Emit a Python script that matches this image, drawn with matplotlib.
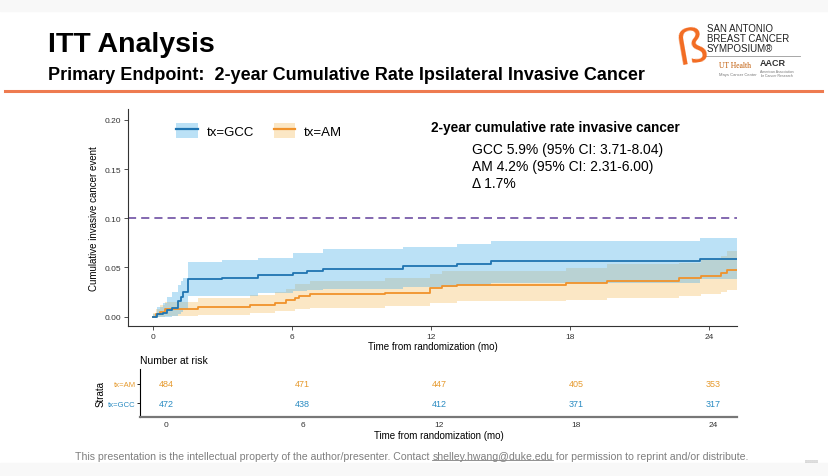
import numpy as np
import matplotlib
matplotlib.use('Agg')
from matplotlib import pyplot as plt
from matplotlib.patches import Patch
from matplotlib.lines import Line2D

plt.rcParams['font.family'] = ['Liberation Sans', 'DejaVu Sans']

# Kaplan-Meier style cumulative incidence
gcc_t = [0, 0.15, 0.4, 0.6, 0.8, 1.07, 1.2, 1.3, 1.5, 2.95, 4.53, 6.04, 6.65, 7.31, 10.8, 13.1, 14.56, 23.6, 25.2]
gcc_est = [0, 0.0023, 0.004, 0.0067, 0.009, 0.016, 0.020, 0.025, 0.038, 0.0397, 0.042, 0.0444, 0.0464, 0.0488,
           0.0512, 0.0535, 0.056, 0.059, 0.059]
gcc_hi = [0.003, 0.010, 0.014, 0.020, 0.025, 0.032, 0.036, 0.039, 0.055, 0.0576, 0.060, 0.0644, 0.0644, 0.0685,
          0.0712, 0.0739, 0.0766, 0.0797, 0.0797]
gcc_lo = [0, 0, 0, 0, 0.001, 0.003, 0.005, 0.008, 0.021, 0.021, 0.0237, 0.026, 0.027, 0.0285, 0.0305, 0.0325,
          0.0346, 0.038, 0.038]

am_t = [0, 0.1, 0.3, 0.5, 1.94, 4.17, 5.25, 5.75, 6.11, 6.3, 6.76, 10.0, 11.94, 12.45, 13.1, 17.8, 19.6, 22.7,
        23.65, 24.5, 24.75, 25.2]
am_est = [0, 0.003, 0.005, 0.0078, 0.0100, 0.0122, 0.0142, 0.0166, 0.0186, 0.021, 0.0227, 0.0244, 0.0288, 0.0308,
          0.0318, 0.0339, 0.0362, 0.0387, 0.0413, 0.0447, 0.0474, 0.0474]
am_hi = [0.004, 0.008, 0.012, 0.015, 0.0185, 0.0224, 0.025, 0.0278, 0.0336, 0.0336, 0.0362, 0.039, 0.0437, 0.0466,
         0.0466, 0.049, 0.0532, 0.054, 0.059, 0.0617, 0.0668, 0.0668]
am_lo = [0, 0, 0, 0.001, 0.0015, 0.0034, 0.0057, 0.0057, 0.0074, 0.0074, 0.0092, 0.0108, 0.0142, 0.0142, 0.0159,
         0.0169, 0.0186, 0.021, 0.0227, 0.025, 0.027, 0.027]

threshold = 0.10

risk_times = [0, 6, 12, 18, 24]
risk_am = [484, 471, 447, 405, 353]
risk_gcc = [472, 438, 412, 371, 317]

xticks = [0, 6, 12, 18, 24]
yticks = [0.00, 0.05, 0.10, 0.15, 0.20]

c_blue = '#1F74B1'
c_blue_band = '#56B4E9'
c_blue_txt = '#2A8BC2'
c_orange = '#F0922B'
c_orange_band = '#F5B041'
c_orange_txt = '#E69A2E'

W, H = 829, 477
fig = plt.figure(figsize=(W / 100, H / 100), dpi=100)


def fx(x):
    return x / W


def fy(y):
    return 1 - y / H


# slide header
fig.patches.append(plt.Rectangle((0, fy(12)), 1, 12 / H, transform=fig.transFigure, color='#f8f8f8', zorder=0))
fig.patches.append(plt.Rectangle((0, 0), 1, 13 / H, transform=fig.transFigure, color='#f8f8f8', zorder=0))
fig.text(fx(48), fy(45), 'ITT Analysis', fontsize=20.5, fontweight='bold', va='center')
fig.text(fx(48), fy(75), 'Primary Endpoint:  2-year Cumulative Rate Ipsilateral Invasive Cancer', fontsize=13,
         fontweight='bold', va='center')
fig.add_artist(Line2D([fx(5), fx(822)], [fy(92), fy(92)], color='#EE7B50', lw=2.2))

# logo (text approximation)
fig.text(fx(692), fy(50), '\u00df', fontsize=36, color='#F26B21', ha='center', va='center', rotation=10)
for i, s in enumerate(['SAN ANTONIO', 'BREAST CANCER', 'SYMPOSIUM\u00ae']):
    fig.text(fx(707), fy(29 + i * 10), s, fontsize=7, va='center', color='#222222')
fig.add_artist(Line2D([fx(704), fx(800)], [fy(57), fy(57)], color='#999999', lw=0.6))
fig.text(fx(719), fy(66), 'UT Health', fontsize=5.5, color='#BF5700', va='center', family='Liberation Serif')
fig.text(fx(719), fy(75), 'Mays Cancer Center', fontsize=3, color='#777777', va='center')
fig.text(fx(760), fy(64), 'AACR', fontsize=6.5, color='#333333', va='center', fontweight='bold')
fig.text(fx(760), fy(74), 'American Association\nfor Cancer Research', fontsize=2.5, color='#777777', va='center')

# main survival panel
ax = fig.add_axes([fx(128), fy(327), fx(737) - fx(128), (327 - 110) / H])
ax.fill_between(am_t, am_lo, am_hi, step='post', color=c_orange_band, alpha=0.3, lw=0)
ax.step(am_t, am_est, where='post', color=c_orange, lw=1.3)
ax.fill_between(gcc_t, gcc_lo, gcc_hi, step='post', color=c_blue_band, alpha=0.4, lw=0)
ax.step(gcc_t, gcc_est, where='post', color=c_blue, lw=1.3)
ax.axhline(threshold, color='#7A5DAA', lw=1.3, linestyle=(0, (4.5, 2.8)))

ax.set_xlim(-1.09, 25.2)
ax.set_ylim(-0.0096, 0.211)
ax.set_xticks(xticks)
ax.set_yticks(yticks)
ax.set_yticklabels(['%.2f' % v for v in yticks])
ax.tick_params(labelsize=6, length=3, width=0.6, color='#333333', pad=2, labelcolor='#333333')
for s in ['top', 'right']:
    ax.spines[s].set_visible(False)
for s in ['left', 'bottom']:
    ax.spines[s].set_linewidth(0.8)
    ax.spines[s].set_color('#333333')
ax.set_xlabel('Time from randomization (mo)', fontsize=7, labelpad=1)
ax.set_ylabel('Cumulative invasive cancer event', fontsize=7, labelpad=4)

handles = [(Patch(facecolor=c_blue_band, alpha=0.4, lw=0), Line2D([], [], color=c_blue, lw=1.6)),
           (Patch(facecolor=c_orange_band, alpha=0.3, lw=0), Line2D([], [], color=c_orange, lw=1.6))]
ax.legend(handles, ['tx=GCC', 'tx=AM'], ncol=2, frameon=False, fontsize=9.5, loc='upper left',
          bbox_to_anchor=(0.06, 0.99), handlelength=1.6, handleheight=1.4, columnspacing=1.5, handletextpad=0.7)

ax.text(0.498, 0.915, '2-year cumulative rate invasive cancer', transform=ax.transAxes, fontsize=9.8,
        fontweight='bold', va='center')
ax.text(0.565, 0.85, 'GCC 5.9% (95% CI: 3.71-8.04)\nAM 4.2% (95% CI: 2.31-6.00)\n\u0394 1.7%',
        transform=ax.transAxes, fontsize=10, va='top', linespacing=1.3)

# number at risk table
ax2 = fig.add_axes([fx(140), fy(418), fx(737) - fx(140), (418 - 370) / H])
for t, a, g in zip(risk_times, risk_am, risk_gcc):
    ax2.text(t, 2, str(a), color=c_orange_txt, fontsize=6.5, ha='center', va='center')
    ax2.text(t, 1, str(g), color=c_blue_txt, fontsize=6.5, ha='center', va='center')
ax2.set_xlim(-1.14, 25.05)
ax2.set_ylim(0.3, 2.75)
ax2.set_xticks(xticks)
ax2.set_yticks([1, 2])
ax2.set_yticklabels(['tx=GCC', 'tx=AM'])
for lab, c in zip(ax2.get_yticklabels(), [c_blue_txt, c_orange_txt]):
    lab.set_color(c)
ax2.tick_params(axis='y', labelsize=5.5, length=2, width=0.6, pad=1)
ax2.tick_params(axis='x', labelsize=6, length=0, pad=3, labelcolor='#333333')
for s in ['top', 'right']:
    ax2.spines[s].set_visible(False)
ax2.spines['left'].set_linewidth(0.8)
ax2.spines['bottom'].set_linewidth(1.6)
ax2.spines['bottom'].set_color('#777777')
ax2.set_xlabel('Time from randomization (mo)', fontsize=7, labelpad=1)
ax2.set_ylabel('Strata', fontsize=7, labelpad=2)
fig.text(fx(140), fy(361), 'Number at risk', fontsize=7.5, va='center')

# footer
foot_kw = dict(fontsize=7.6, color='#7f7f7f', va='center')
t1 = fig.text(fx(75), fy(457), 'This presentation is the intellectual property of the author/presenter. Contact ',
              **foot_kw)
fig.canvas.draw()
r = fig.canvas.get_renderer()
b1 = t1.get_window_extent(r)
t2 = fig.text(b1.x1 / W, fy(457), 'shelley.hwang@duke.edu', **foot_kw)
b2 = t2.get_window_extent(r)
fig.add_artist(Line2D([b2.x0 / W, b2.x1 / W], [(b2.y0 + 1) / H, (b2.y0 + 1) / H], color='#7f7f7f', lw=0.6))
fig.text(b2.x1 / W, fy(457), ' for permission to reprint and/or distribute.', **foot_kw)
fig.text(fx(805), fy(463), '0000000', fontsize=2.5, color='#999999')

plt.savefig('out.png', dpi=100)
